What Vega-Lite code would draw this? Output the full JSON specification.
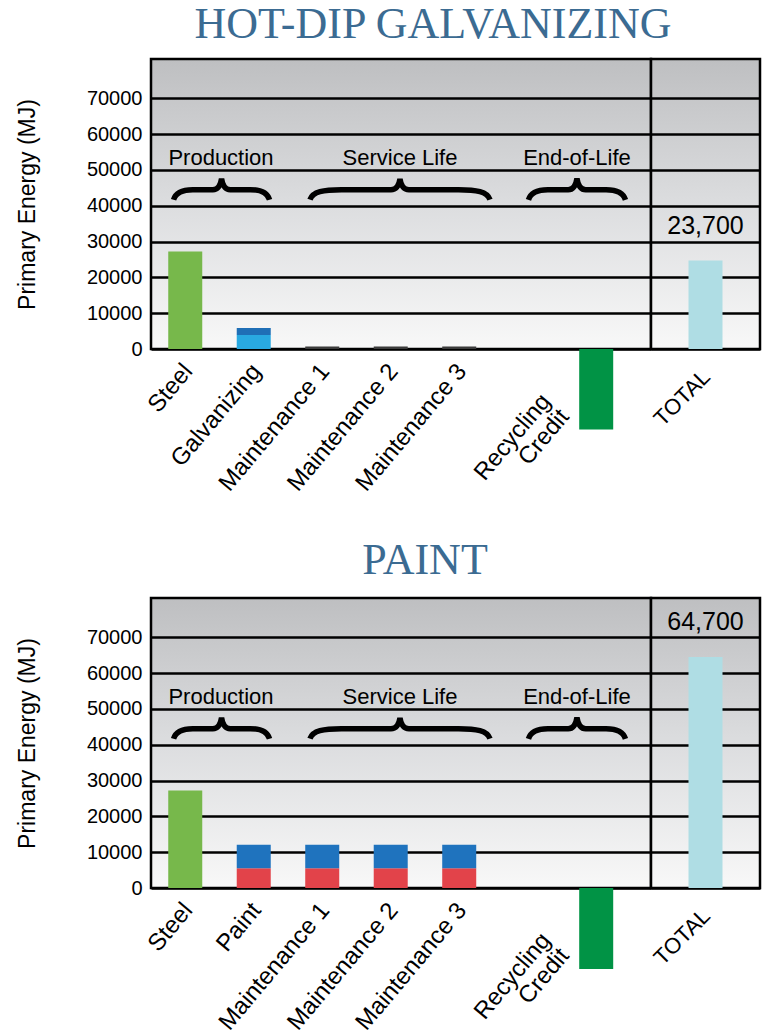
{
  "$schema": "https://vega.github.io/schema/vega-lite/v6.json",
  "autosize": {"type": "pad"},
  "padding": {"left": 15, "top": 1, "right": 4, "bottom": 5},
  "background": "white",
  "config": {
    "font": "Liberation Sans",
    "view": {
      "stroke": "black",
      "strokeWidth": 2.5,
      "fill": {"gradient": "linear", "x1": 0, "y1": 0, "x2": 0, "y2": 1,
        "stops": [{"offset": 0, "color": "#bebfc1"}, {"offset": 0.5, "color": "#dcdddf"}, {"offset": 1, "color": "#f8f8f8"}]}
    },
    "axis": {"labelFont": "Liberation Sans", "titleFont": "Liberation Sans", "labelColor": "black", "titleColor": "black"},
    "title": {"font": "Liberation Serif", "fontSize": 44, "fontWeight": "normal", "color": "#3b6b92", "anchor": "middle", "frame": "group", "baseline": "alphabetic"}
  },
  "datasets": {
    "galv": [
      {"cat": "Steel", "part": "steel", "value": 27200},
      {"cat": "Galvanizing", "part": "galv-2", "value": 3900},
      {"cat": "Galvanizing", "part": "galv-1", "value": 2000},
      {"cat": "Maintenance 1", "part": "maint", "value": 700},
      {"cat": "Maintenance 2", "part": "maint", "value": 700},
      {"cat": "Maintenance 3", "part": "maint", "value": 700},
      {"cat": "Recycling Credit", "part": "recycling", "value": -22500},
      {"cat": "TOTAL", "part": "total", "value": 24700, "label": "23,700"}
    ],
    "paint": [
      {"cat": "Steel", "part": "steel", "value": 27200},
      {"cat": "Paint", "part": "paint-2", "value": 5500},
      {"cat": "Paint", "part": "paint-1", "value": 6600},
      {"cat": "Maintenance 1", "part": "paint-2", "value": 5500},
      {"cat": "Maintenance 1", "part": "paint-1", "value": 6600},
      {"cat": "Maintenance 2", "part": "paint-2", "value": 5500},
      {"cat": "Maintenance 2", "part": "paint-1", "value": 6600},
      {"cat": "Maintenance 3", "part": "paint-2", "value": 5500},
      {"cat": "Maintenance 3", "part": "paint-1", "value": 6600},
      {"cat": "Recycling Credit", "part": "recycling", "value": -22600},
      {"cat": "TOTAL", "part": "total", "value": 64500, "label": "64,700"}
    ],
    "phases": [
      {"phase": "Production", "anchor": "Steel"},
      {"phase": "Service Life", "anchor": "Maintenance 2"},
      {"phase": "End-of-Life", "anchor": "Recycling Credit"}
    ]
  },
  "spacing": 35,
  "vconcat": [
    {
      "spacing": 0,
      "bounds": "flush",
      "hconcat": [
        {
          "title": {"text": "HOT-DIP GALVANIZING", "offset": 12, "dx": 32},
          "width": 500,
          "height": 290,
          "layer": [
            {
              "data": {"name": "galv"},
              "transform": [{"filter": "datum.cat != 'TOTAL'"}],
              "mark": {"type": "bar", "width": 34},
              "encoding": {
                "x": {"field": "cat", "type": "nominal", "title": null,
                  "scale": {"domain": ["Steel", "Galvanizing", "Maintenance 1", "Maintenance 2", "Maintenance 3", " ", "Recycling Credit"], "paddingInner": 0, "paddingOuter": 0.15, "align": 0},
                  "axis": {"orient": "bottom", "domain": false, "ticks": false, "grid": false, "labelAngle": -50, "labelAlign": "right", "labelBaseline": "middle", "labelFontSize": 24, "labelLineHeight": 24,
                    "labelPadding": {"condition": {"test": "datum.value == 'Recycling Credit'", "value": 48}, "value": 18},
                    "labelOffset": {"condition": {"test": "datum.value == 'Recycling Credit'", "value": -50}, "value": 3},
                    "labelExpr": "datum.value == 'Recycling Credit' ? ['Recycling', 'Credit'] : datum.value",
                    "labelLimit": 400, "labelOverlap": false, "labelBound": false}},
                "y": {"field": "value", "type": "quantitative", "stack": "zero",
                  "scale": {"domain": [0, 81000], "nice": false, "zero": false},
                  "axis": {"values": [0, 10000, 20000, 30000, 40000, 50000, 60000, 70000], "format": "d", "labelFontSize": 20, "labelPadding": 9, "ticks": false, "domain": false, "grid": true, "gridColor": "black", "gridWidth": 2.5, "gridOpacity": 1, "title": "Primary Energy (MJ)", "titleFontSize": 23, "titleFontWeight": "normal", "titlePadding": 47}},
                "color": {"field": "part", "type": "nominal", "legend": null,
                  "scale": {"domain": ["steel", "galv-1", "galv-2", "maint", "paint-1", "paint-2", "recycling", "total"], "range": ["#77b84b", "#1f6fb6", "#29a9e1", "#3b3b3b", "#1f73be", "#e2434a", "#019345", "#afdde4"]}}
              }
            },
            {
              "data": {"name": "phases"},
              "transform": [{"filter": "datum.phase == 'Production'"}],
              "mark": {"type": "text", "fontSize": 22, "font": "Liberation Sans", "color": "black", "baseline": "middle", "align": "center"},
              "encoding": {"x": {"field": "anchor", "type": "nominal", "bandPosition": 1.022}, "y": {"datum": 53300, "type": "quantitative"}, "text": {"field": "phase"}}
            },
            {
              "data": {"name": "phases"},
              "transform": [{"filter": "datum.phase == 'Service Life'"}],
              "mark": {"type": "text", "fontSize": 22, "font": "Liberation Sans", "color": "black", "baseline": "middle", "align": "center"},
              "encoding": {"x": {"field": "anchor", "type": "nominal", "bandPosition": 0.635}, "y": {"datum": 53300, "type": "quantitative"}, "text": {"field": "phase"}}
            },
            {
              "data": {"name": "phases"},
              "transform": [{"filter": "datum.phase == 'End-of-Life'"}],
              "mark": {"type": "text", "fontSize": 22, "font": "Liberation Sans", "color": "black", "baseline": "middle", "align": "center"},
              "encoding": {"x": {"field": "anchor", "type": "nominal", "bandPosition": 0.219}, "y": {"datum": 53300, "type": "quantitative"}, "text": {"field": "phase"}}
            },
            {
              "data": {"name": "phases"},
              "transform": [{"filter": "datum.phase == 'Production'"}],
              "mark": {"type": "point", "shape": "M -1 0.21 C -0.95 0.04 -0.8 0 -0.6 0 L -0.18 0 C -0.07 0 -0.02 -0.1 0 -0.23 C 0.02 -0.1 0.07 0 0.18 0 L 0.6 0 C 0.8 0 0.95 0.04 1 0.21", "size": 9216, "filled": false, "stroke": "black", "strokeWidth": 5.5, "opacity": 1},
              "encoding": {"x": {"field": "anchor", "type": "nominal", "bandPosition": 1.03}, "y": {"datum": 44500, "type": "quantitative"}}
            },
            {
              "data": {"name": "phases"},
              "transform": [{"filter": "datum.phase == 'Service Life'"}],
              "mark": {"type": "point", "shape": "M -1 0.11 C -0.97 0.02 -0.85 0 -0.65 0 L -0.1 0 C -0.04 0 -0.01 -0.05 0 -0.12 C 0.01 -0.05 0.04 0 0.1 0 L 0.65 0 C 0.85 0 0.97 0.02 1 0.11", "size": 32400, "filled": false, "stroke": "black", "strokeWidth": 5.5, "opacity": 1},
              "encoding": {"x": {"field": "anchor", "type": "nominal", "bandPosition": 0.635}, "y": {"datum": 44500, "type": "quantitative"}}
            },
            {
              "data": {"name": "phases"},
              "transform": [{"filter": "datum.phase == 'End-of-Life'"}],
              "mark": {"type": "point", "shape": "M -1 0.21 C -0.95 0.04 -0.8 0 -0.6 0 L -0.18 0 C -0.07 0 -0.02 -0.1 0 -0.23 C 0.02 -0.1 0.07 0 0.18 0 L 0.6 0 C 0.8 0 0.95 0.04 1 0.21", "size": 9409, "filled": false, "stroke": "black", "strokeWidth": 5.5, "opacity": 1},
              "encoding": {"x": {"field": "anchor", "type": "nominal", "bandPosition": 0.219}, "y": {"datum": 44500, "type": "quantitative"}}
            }
          ]
        },
        {
          "width": 109,
          "height": 290,
          "layer": [
            {
              "data": {"name": "galv"},
              "transform": [{"filter": "datum.cat == 'TOTAL'"}],
              "mark": {"type": "bar", "width": 34},
              "encoding": {
                "x": {"field": "cat", "type": "nominal", "title": null,
                  "scale": {"paddingInner": 0, "paddingOuter": 1},
                  "axis": {"orient": "bottom", "domain": false, "ticks": false, "grid": false, "labelAngle": -45, "labelAlign": "right", "labelBaseline": "middle", "labelFontSize": 22, "labelPadding": 24, "labelOffset": 1, "labelLimit": 400, "labelOverlap": false, "labelBound": false}},
                "y": {"field": "value", "type": "quantitative",
                  "scale": {"domain": [0, 81000], "nice": false, "zero": false},
                  "axis": {"values": [0, 10000, 20000, 30000, 40000, 50000, 60000, 70000], "labels": false, "ticks": false, "domain": false, "grid": true, "gridColor": "black", "gridWidth": 2.5, "gridOpacity": 1, "title": null}},
                "color": {"field": "part", "type": "nominal", "legend": null,
                  "scale": {"domain": ["steel", "galv-1", "galv-2", "maint", "paint-1", "paint-2", "recycling", "total"], "range": ["#77b84b", "#1f6fb6", "#29a9e1", "#3b3b3b", "#1f73be", "#e2434a", "#019345", "#afdde4"]}}
              }
            },
            {
              "data": {"name": "galv"},
              "transform": [{"filter": "datum.cat == 'TOTAL'"}],
              "mark": {"type": "text", "fontSize": 25, "font": "Liberation Sans", "color": "black", "baseline": "middle", "align": "center", "dy": -35},
              "encoding": {"x": {"field": "cat", "type": "nominal"}, "y": {"field": "value", "type": "quantitative"}, "text": {"field": "label"}}
            }
          ]
        }
      ]
    },
    {
      "spacing": 0,
      "bounds": "flush",
      "hconcat": [
        {
          "title": {"text": "PAINT", "offset": 15, "dx": 24},
          "width": 500,
          "height": 290,
          "layer": [
            {
              "data": {"name": "paint"},
              "transform": [{"filter": "datum.cat != 'TOTAL'"}],
              "mark": {"type": "bar", "width": 34},
              "encoding": {
                "x": {"field": "cat", "type": "nominal", "title": null,
                  "scale": {"domain": ["Steel", "Paint", "Maintenance 1", "Maintenance 2", "Maintenance 3", " ", "Recycling Credit"], "paddingInner": 0, "paddingOuter": 0.15, "align": 0},
                  "axis": {"orient": "bottom", "domain": false, "ticks": false, "grid": false, "labelAngle": -50, "labelAlign": "right", "labelBaseline": "middle", "labelFontSize": 24, "labelLineHeight": 24,
                    "labelPadding": {"condition": {"test": "datum.value == 'Recycling Credit'", "value": 48}, "value": 18},
                    "labelOffset": {"condition": {"test": "datum.value == 'Recycling Credit'", "value": -50}, "value": 3},
                    "labelExpr": "datum.value == 'Recycling Credit' ? ['Recycling', 'Credit'] : datum.value",
                    "labelLimit": 400, "labelOverlap": false, "labelBound": false}},
                "y": {"field": "value", "type": "quantitative", "stack": "zero",
                  "scale": {"domain": [0, 81000], "nice": false, "zero": false},
                  "axis": {"values": [0, 10000, 20000, 30000, 40000, 50000, 60000, 70000], "format": "d", "labelFontSize": 20, "labelPadding": 9, "ticks": false, "domain": false, "grid": true, "gridColor": "black", "gridWidth": 2.5, "gridOpacity": 1, "title": "Primary Energy (MJ)", "titleFontSize": 23, "titleFontWeight": "normal", "titlePadding": 47}},
                "color": {"field": "part", "type": "nominal", "legend": null,
                  "scale": {"domain": ["steel", "galv-1", "galv-2", "maint", "paint-1", "paint-2", "recycling", "total"], "range": ["#77b84b", "#1f6fb6", "#29a9e1", "#3b3b3b", "#1f73be", "#e2434a", "#019345", "#afdde4"]}}
              }
            },
            {
              "data": {"name": "phases"},
              "transform": [{"filter": "datum.phase == 'Production'"}],
              "mark": {"type": "text", "fontSize": 22, "font": "Liberation Sans", "color": "black", "baseline": "middle", "align": "center"},
              "encoding": {"x": {"field": "anchor", "type": "nominal", "bandPosition": 1.022}, "y": {"datum": 53300, "type": "quantitative"}, "text": {"field": "phase"}}
            },
            {
              "data": {"name": "phases"},
              "transform": [{"filter": "datum.phase == 'Service Life'"}],
              "mark": {"type": "text", "fontSize": 22, "font": "Liberation Sans", "color": "black", "baseline": "middle", "align": "center"},
              "encoding": {"x": {"field": "anchor", "type": "nominal", "bandPosition": 0.635}, "y": {"datum": 53300, "type": "quantitative"}, "text": {"field": "phase"}}
            },
            {
              "data": {"name": "phases"},
              "transform": [{"filter": "datum.phase == 'End-of-Life'"}],
              "mark": {"type": "text", "fontSize": 22, "font": "Liberation Sans", "color": "black", "baseline": "middle", "align": "center"},
              "encoding": {"x": {"field": "anchor", "type": "nominal", "bandPosition": 0.219}, "y": {"datum": 53300, "type": "quantitative"}, "text": {"field": "phase"}}
            },
            {
              "data": {"name": "phases"},
              "transform": [{"filter": "datum.phase == 'Production'"}],
              "mark": {"type": "point", "shape": "M -1 0.21 C -0.95 0.04 -0.8 0 -0.6 0 L -0.18 0 C -0.07 0 -0.02 -0.1 0 -0.23 C 0.02 -0.1 0.07 0 0.18 0 L 0.6 0 C 0.8 0 0.95 0.04 1 0.21", "size": 9216, "filled": false, "stroke": "black", "strokeWidth": 5.5, "opacity": 1},
              "encoding": {"x": {"field": "anchor", "type": "nominal", "bandPosition": 1.03}, "y": {"datum": 44500, "type": "quantitative"}}
            },
            {
              "data": {"name": "phases"},
              "transform": [{"filter": "datum.phase == 'Service Life'"}],
              "mark": {"type": "point", "shape": "M -1 0.11 C -0.97 0.02 -0.85 0 -0.65 0 L -0.1 0 C -0.04 0 -0.01 -0.05 0 -0.12 C 0.01 -0.05 0.04 0 0.1 0 L 0.65 0 C 0.85 0 0.97 0.02 1 0.11", "size": 32400, "filled": false, "stroke": "black", "strokeWidth": 5.5, "opacity": 1},
              "encoding": {"x": {"field": "anchor", "type": "nominal", "bandPosition": 0.635}, "y": {"datum": 44500, "type": "quantitative"}}
            },
            {
              "data": {"name": "phases"},
              "transform": [{"filter": "datum.phase == 'End-of-Life'"}],
              "mark": {"type": "point", "shape": "M -1 0.21 C -0.95 0.04 -0.8 0 -0.6 0 L -0.18 0 C -0.07 0 -0.02 -0.1 0 -0.23 C 0.02 -0.1 0.07 0 0.18 0 L 0.6 0 C 0.8 0 0.95 0.04 1 0.21", "size": 9409, "filled": false, "stroke": "black", "strokeWidth": 5.5, "opacity": 1},
              "encoding": {"x": {"field": "anchor", "type": "nominal", "bandPosition": 0.219}, "y": {"datum": 44500, "type": "quantitative"}}
            }
          ]
        },
        {
          "width": 109,
          "height": 290,
          "layer": [
            {
              "data": {"name": "paint"},
              "transform": [{"filter": "datum.cat == 'TOTAL'"}],
              "mark": {"type": "bar", "width": 34},
              "encoding": {
                "x": {"field": "cat", "type": "nominal", "title": null,
                  "scale": {"paddingInner": 0, "paddingOuter": 1},
                  "axis": {"orient": "bottom", "domain": false, "ticks": false, "grid": false, "labelAngle": -45, "labelAlign": "right", "labelBaseline": "middle", "labelFontSize": 22, "labelPadding": 24, "labelOffset": 1, "labelLimit": 400, "labelOverlap": false, "labelBound": false}},
                "y": {"field": "value", "type": "quantitative",
                  "scale": {"domain": [0, 81000], "nice": false, "zero": false},
                  "axis": {"values": [0, 10000, 20000, 30000, 40000, 50000, 60000, 70000], "labels": false, "ticks": false, "domain": false, "grid": true, "gridColor": "black", "gridWidth": 2.5, "gridOpacity": 1, "title": null}},
                "color": {"field": "part", "type": "nominal", "legend": null,
                  "scale": {"domain": ["steel", "galv-1", "galv-2", "maint", "paint-1", "paint-2", "recycling", "total"], "range": ["#77b84b", "#1f6fb6", "#29a9e1", "#3b3b3b", "#1f73be", "#e2434a", "#019345", "#afdde4"]}}
              }
            },
            {
              "data": {"name": "paint"},
              "transform": [{"filter": "datum.cat == 'TOTAL'"}],
              "mark": {"type": "text", "fontSize": 25, "font": "Liberation Sans", "color": "black", "baseline": "middle", "align": "center", "dy": -35},
              "encoding": {"x": {"field": "cat", "type": "nominal"}, "y": {"field": "value", "type": "quantitative"}, "text": {"field": "label"}}
            }
          ]
        }
      ]
    }
  ]
}
